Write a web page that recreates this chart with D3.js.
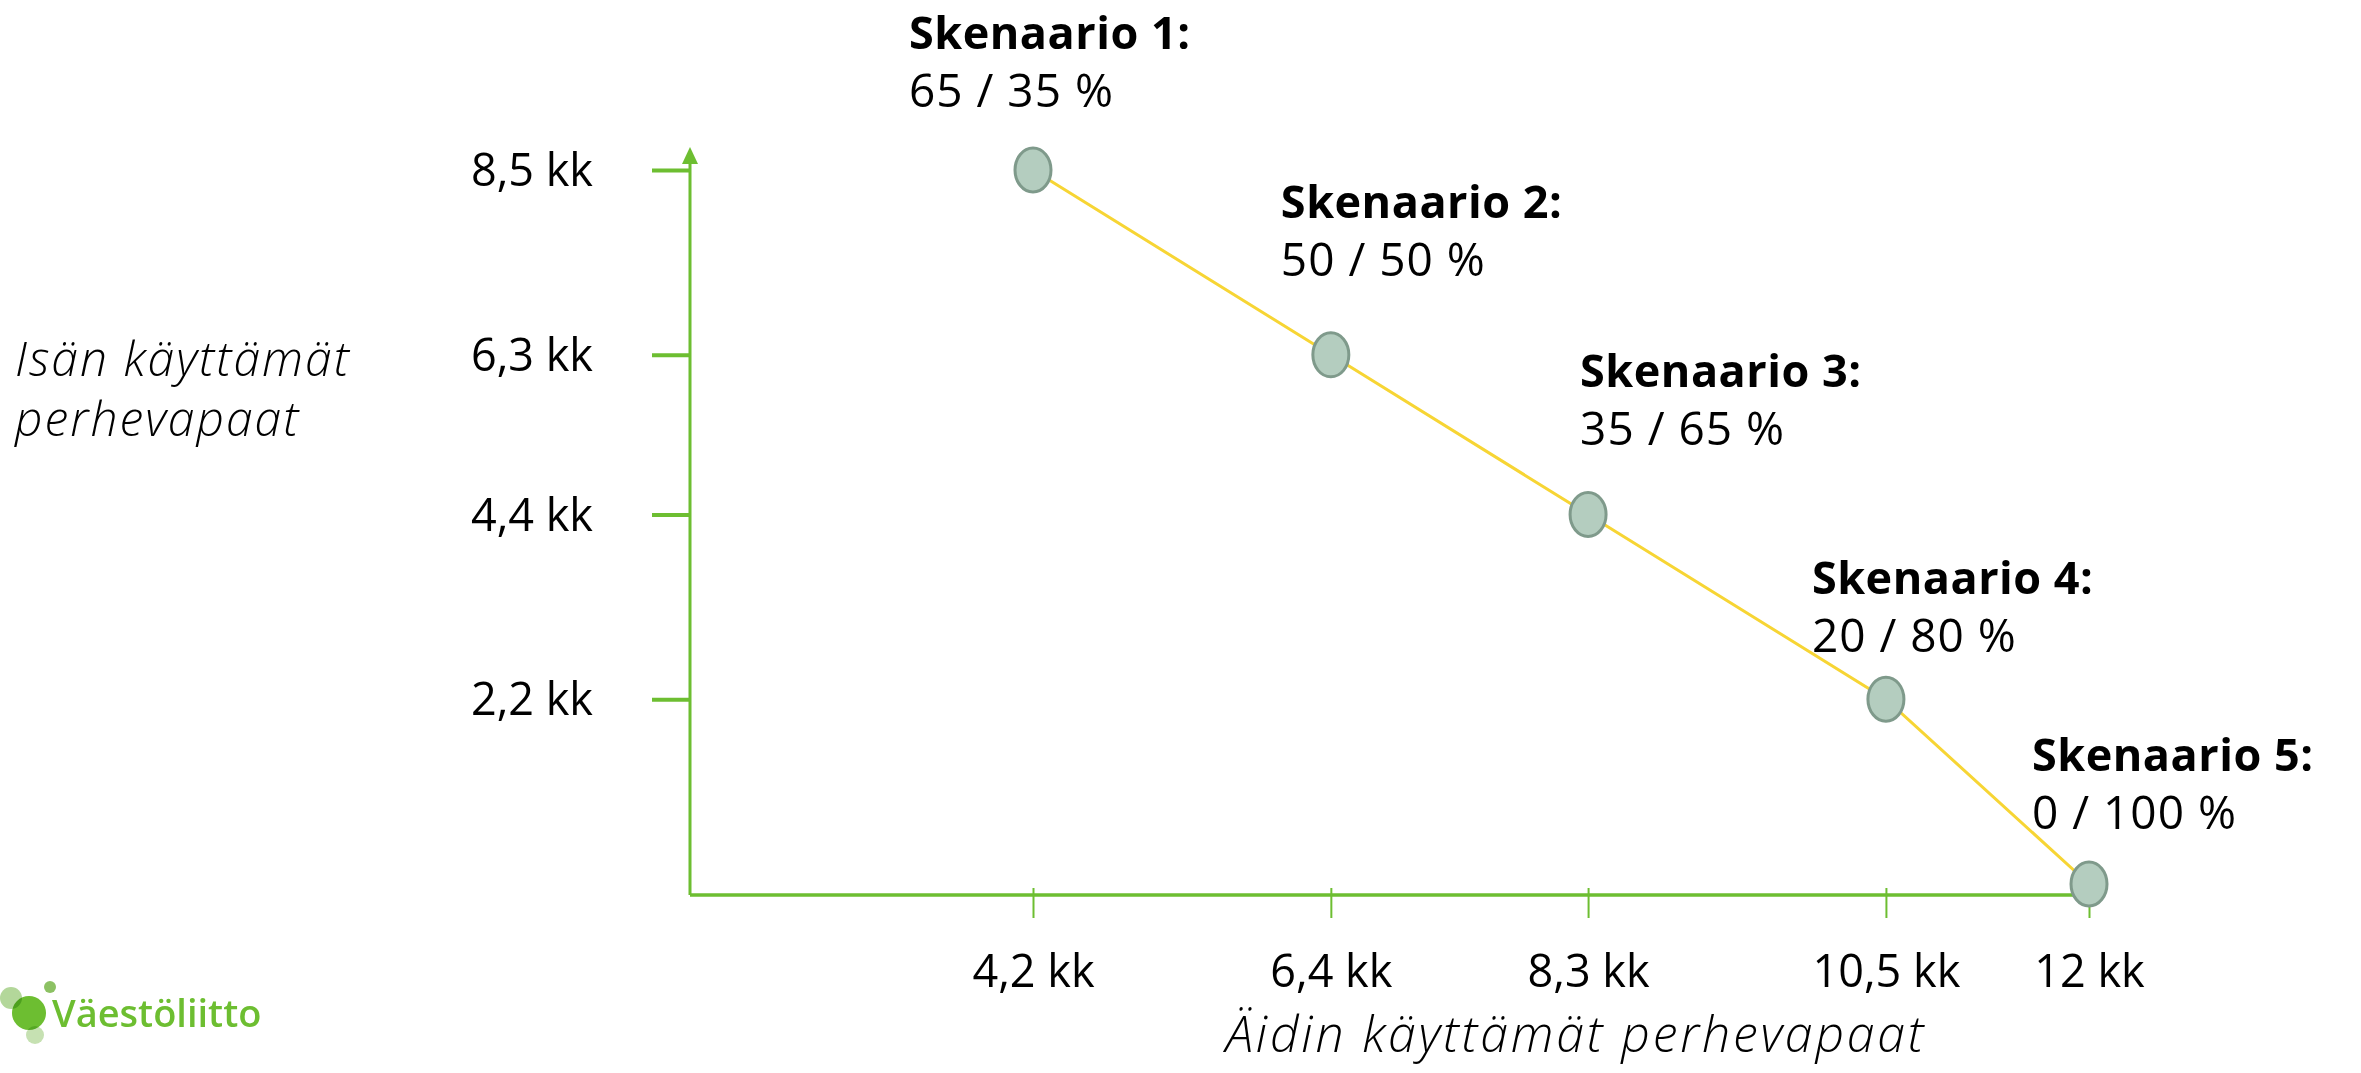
<!DOCTYPE html>
<html>
<head>
<meta charset="utf-8">
<script src="https://cdn.jsdelivr.net/npm/d3@7"></script>
<style>
  html, body { margin: 0; padding: 0; background: #fff; }
  svg { display: block; font-family: "Open Sans", "Noto Sans", sans-serif; }
</style>
</head>
<body>
<div id="app"></div>
<script>
// scenario data: mother's vs father's unused family leave (months)
const scenarios = ['Skenaario 1:', 'Skenaario 2:', 'Skenaario 3:', 'Skenaario 4:', 'Skenaario 5:']
const shares = ['65 / 35 %', '50 / 50 %', '35 / 65 %', '20 / 80 %', '0 / 100 %']
const motherMonths = [4.2, 6.4, 8.3, 10.5, 12]
const fatherMonths = [8.5, 6.3, 4.4, 2.2, 0]
const xTickLabels = ['4,2 kk', '6,4 kk', '8,3 kk', '10,5 kk', '12 kk']
const yTickValues = [8.5, 6.3, 4.4, 2.2]
const yTickLabels = ['8,5 kk', '6,3 kk', '4,4 kk', '2,2 kk']

// label offsets relative to each point (layout only)
const labelDx = [-124, -50, -8, -74, -57]
const labelDy = [-121, -137, -127, -105, -113]

const width = 2361
const height = 1073
const green = '#6dbe31'

const data = scenarios.map((s, i) => ({
    name: s,
    share: shares[i],
    mother: motherMonths[i],
    father: fatherMonths[i]
}))

const svg = d3.select('#app').append('svg')
    .attr('width', width)
    .attr('height', height)
    .attr('viewBox', [0, 0, width, height])

const xScale = d3.scaleLinear().domain([4.2, 12]).range([1033, 2089])
const yScale = d3.scaleLinear().domain([0, 8.5]).range([884, 170])

const axisX0 = 690
const axisY0 = 895

// y axis with arrow
svg.append('line')
    .attr('x1', axisX0).attr('x2', axisX0)
    .attr('y1', axisY0).attr('y2', 164)
    .attr('stroke', green).attr('stroke-width', 3)
svg.append('path')
    .attr('d', `M${axisX0 - 8},${164} L${axisX0},${147} L${axisX0 + 8},${164} Z`)
    .attr('fill', green)

// x axis line
svg.append('line')
    .attr('x1', axisX0).attr('x2', xScale(12) - 5)
    .attr('y1', axisY0).attr('y2', axisY0)
    .attr('stroke', green).attr('stroke-width', 3.5)

// y ticks
const yAxis = svg.append('g').attr('transform', `translate(${axisX0},0)`)
    .call(d3.axisLeft(yScale).tickValues(yTickValues).tickSize(38).tickFormat((d, i) => yTickLabels[i]))
yAxis.select('.domain').remove()
yAxis.selectAll('.tick line').attr('stroke', green).attr('stroke-width', 4)
yAxis.selectAll('.tick text')
    .attr('x', -97)
    .attr('dy', '0.35em')
    .attr('fill', '#000')
    .style('font-size', '45px')
    .style('font-family', '"Open Sans", sans-serif')

// x ticks
const xAxis = svg.append('g').attr('transform', `translate(0,${axisY0 - 7})`)
    .call(d3.axisBottom(xScale).tickValues(motherMonths).tickSize(30).tickFormat((d, i) => xTickLabels[i]))
xAxis.select('.domain').remove()
xAxis.selectAll('.tick line').attr('stroke', green).attr('stroke-width', 2)
xAxis.selectAll('.tick text')
    .attr('y', 99)
    .attr('dy', 0)
    .attr('fill', '#000')
    .style('font-size', '45px')
    .style('font-family', '"Open Sans", sans-serif')

// connecting line
const line = d3.line()
    .x(d => xScale(d.mother))
    .y(d => yScale(d.father))
svg.append('path')
    .datum(data)
    .attr('fill', 'none')
    .attr('stroke', '#f7d534')
    .attr('stroke-width', 3)
    .attr('d', line)

// points
svg.selectAll('ellipse.pt')
    .data(data)
    .enter().append('ellipse')
    .attr('class', 'pt')
    .attr('cx', d => xScale(d.mother))
    .attr('cy', d => yScale(d.father))
    .attr('rx', 18)
    .attr('ry', 22)
    .attr('fill', '#b4cdbf')
    .attr('stroke', '#7f9a8b')
    .attr('stroke-width', 3)

// scenario labels
const labels = svg.selectAll('g.lbl')
    .data(data)
    .enter().append('g')
    .attr('class', 'lbl')
    .attr('transform', (d, i) => `translate(${xScale(d.mother) + labelDx[i]},${yScale(d.father) + labelDy[i]})`)
labels.append('text')
    .text(d => d.name)
    .style('font-size', '45px')
    .style('font-weight', 700)
    .style('letter-spacing', '0.5px')
    .attr('fill', '#000')
labels.append('text')
    .text(d => d.share)
    .attr('y', 58)
    .style('font-size', '46px')
    .style('letter-spacing', '1px')
    .attr('fill', '#000')

// axis titles
svg.append('text')
    .text('Äidin käyttämät perhevapaat')
    .attr('x', 1576).attr('y', 1052)
    .attr('text-anchor', 'middle')
    .style('font-size', '50px')
    .style('font-style', 'italic')
    .style('font-weight', 300)
    .style('letter-spacing', '2.8px')
    .attr('fill', '#000')

const yTitle = svg.append('text')
    .attr('x', 15).attr('y', 376)
    .style('font-size', '48px')
    .style('font-style', 'italic')
    .style('font-weight', 300)
    .style('letter-spacing', '2px')
    .attr('fill', '#000')
yTitle.append('tspan').attr('x', 15).text('Isän käyttämät')
yTitle.append('tspan').attr('x', 15).attr('dy', 60).text('perhevapaat')

// logo
const logo = svg.append('g').attr('class', 'logo')
const logoCircles = [
    { cx: 11, cy: 998, r: 11, c: '#b3d79a' },
    { cx: 29, cy: 1013, r: 17, c: '#6dbe31' },
    { cx: 50, cy: 987, r: 6, c: '#8cc163' },
    { cx: 35, cy: 1035, r: 9, c: '#c6e1b2' }
]
logo.selectAll('circle')
    .data(logoCircles)
    .enter().append('circle')
    .attr('cx', d => d.cx).attr('cy', d => d.cy).attr('r', d => d.r)
    .attr('fill', d => d.c)
    .style('mix-blend-mode', 'multiply')
logo.append('text')
    .text('Väestöliitto')
    .attr('x', 52).attr('y', 1027)
    .style('font-size', '38px')
    .style('font-weight', 600)
    .style('font-family', '"Open Sans", sans-serif')
    .attr('fill', '#6dbe31')
</script>
</body>
</html>
